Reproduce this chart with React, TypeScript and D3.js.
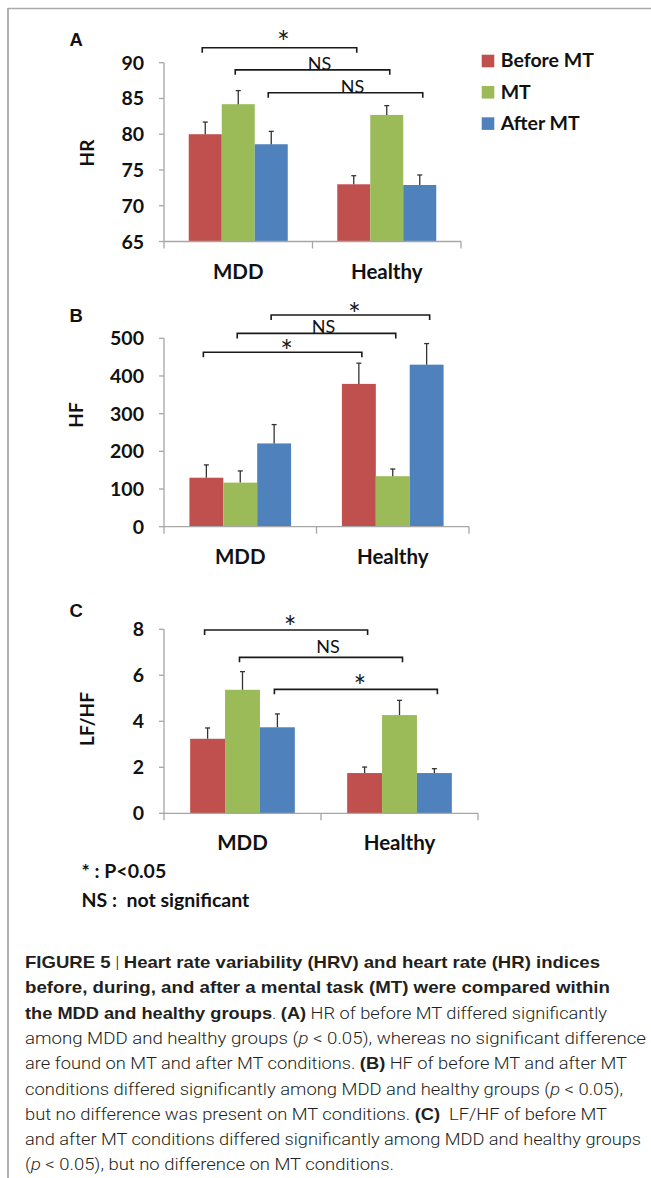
import React from "react";
import * as d3 from "d3";

// ---------- data ----------
const categories = ["MDD", "Healthy"];
const seriesNames = ["Before MT", "MT", "After MT"];
const seriesColors = ["#C0504D", "#9BBB59", "#4F81BD"];

// HR (panel A): [category][series]
const hrMeans = [
  [80.0, 84.2, 78.6],
  [73.0, 82.7, 72.9],
];
const hrErrors = [
  [1.7, 1.9, 1.8],
  [1.2, 1.3, 1.4],
];
const hrTicks = [65, 70, 75, 80, 85, 90];
const hrBrackets = [
  { series: 0, level: 92.1, label: "*" },
  { series: 1, level: 89.0, label: "NS" },
  { series: 2, level: 85.8, label: "NS" },
];

// HF (panel B)
const hfMeans = [
  [130, 117, 221],
  [379, 134, 430],
];
const hfErrors = [
  [34, 31, 50],
  [55, 19, 56],
];
const hfTicks = [0, 100, 200, 300, 400, 500];
const hfBrackets = [
  { series: 0, level: 463, label: "*" },
  { series: 1, level: 513, label: "NS" },
  { series: 2, level: 562, label: "*" },
];

// LF/HF (panel C)
const lfhfMeans = [
  [3.24, 5.37, 3.74],
  [1.75, 4.27, 1.75],
];
const lfhfErrors = [
  [0.47, 0.79, 0.58],
  [0.26, 0.64, 0.19],
];
const lfhfTicks = [0, 2, 4, 6, 8];
const lfhfBrackets = [
  { series: 0, level: 7.97, label: "*" },
  { series: 1, level: 6.78, label: "NS" },
  { series: 2, level: 5.39, label: "*" },
];

const footnotes = ["* : P<0.05", "NS :  not significant"];

type Seg = [string, "b" | "r" | "i"];
const captionLines: Seg[][] = [
  [["FIGURE 5", "b"], [" | ", "r"], ["Heart rate variability (HRV) and heart rate (HR) indices", "b"]],
  [["before, during, and after a mental task (MT) were compared within", "b"]],
  [["the MDD and healthy groups", "b"], [". ", "r"], ["(A)", "b"], [" HR of before MT differed significantly", "r"]],
  [["among MDD and healthy groups (", "r"], ["p", "i"], [" < 0.05), whereas no significant difference", "r"]],
  [["are found on MT and after MT conditions. ", "r"], ["(B)", "b"], [" HF of before MT and after MT", "r"]],
  [["conditions differed significantly among MDD and healthy groups (", "r"], ["p", "i"], [" < 0.05),", "r"]],
  [["but no difference was present on MT conditions. ", "r"], ["(C)", "b"], ["  LF/HF of before MT", "r"]],
  [["and after MT conditions differed significantly among MDD and healthy groups", "r"]],
  [["(", "r"], ["p", "i"], [" < 0.05), but no difference on MT conditions.", "r"]],
];

// ---------- layout (positions / styles) ----------
const panels = [
  { letter: "A", yLabel: "HR", means: hrMeans, errors: hrErrors, ticks: hrTicks, brackets: hrBrackets },
  { letter: "B", yLabel: "HF", means: hfMeans, errors: hfErrors, ticks: hfTicks, brackets: hfBrackets },
  { letter: "C", yLabel: "LF/HF", means: lfhfMeans, errors: lfhfErrors, ticks: lfhfTicks, brackets: lfhfBrackets },
];
const layouts = [
  { x0: 164, x1: 461, yTop: 62.7, yBottom: 241.5, letterY: 45.7, yLabelX: 87, yLabelY: 153, starGap: 11, nsGap: 0 },
  { x0: 164, x1: 469, yTop: 338.3, yBottom: 526.7, letterY: 322.3, yLabelX: 76, yLabelY: 415, starGap: 7, nsGap: 0 },
  { x0: 164, x1: 478, yTop: 629.3, yBottom: 813.3, letterY: 617.3, yLabelX: 87, yLabelY: 719, starGap: 9, nsGap: 4 },
];
const captionEnds = [600, 610, 607, 646, 627, 623, 607, 641, 394];

const CHART_FONT = "Lato, 'Open Sans', sans-serif";
const AXIS_COLOR = "#a6a6a6";
const STAR_SIZE = 30;

function Panel({ p, L }: { p: (typeof panels)[number]; L: (typeof layouts)[number] }) {
  const x = d3.scaleBand<string>().domain(categories).range([L.x0, L.x1]).padding(0);
  const bw = x.bandwidth();
  const xs = d3
    .scaleBand<string>()
    .domain(seriesNames)
    .range([bw / 6, (bw * 5) / 6])
    .padding(0);
  const ticks = p.ticks;
  const y = d3
    .scaleLinear()
    .domain([ticks[0], ticks[ticks.length - 1]])
    .range([L.yBottom, L.yTop]);
  const barW = xs.bandwidth();
  const center = (ci: number, si: number) => (x(categories[ci]) as number) + (xs(seriesNames[si]) as number) + barW / 2;

  return (
    <g>
      <text x={69.5} y={L.letterY} fontFamily="'Liberation Sans', Arial, sans-serif" fontWeight={700} fontSize={18.5} fill="#111">
        {p.letter}
      </text>
      <text
        transform={`translate(${L.yLabelX},${L.yLabelY}) rotate(-90)`}
        textAnchor="middle"
        dy="0.36em"
        fontFamily={CHART_FONT}
        fontWeight={700}
        fontSize={19}
        fill="#111"
      >
        {p.yLabel}
      </text>
      {/* bars */}
      {categories.map((c, ci) =>
        seriesNames.map((s, si) => {
          const v = p.means[ci][si];
          const bx = (x(c) as number) + (xs(s) as number);
          return (
            <rect
              key={c + s}
              x={bx}
              y={y(v)}
              width={barW}
              height={y(ticks[0]) - y(v)}
              fill={seriesColors[si]}
            />
          );
        })
      )}
      {/* error bars */}
      {categories.map((c, ci) =>
        seriesNames.map((s, si) => {
          const v = p.means[ci][si];
          const e = p.errors[ci][si];
          const cx = center(ci, si);
          return (
            <g key={"e" + c + s} stroke="#333" strokeWidth={1.3}>
              <line x1={cx} x2={cx} y1={y(v)} y2={y(v + e)} />
              <line x1={cx - 2.5} x2={cx + 2.5} y1={y(v + e)} y2={y(v + e)} />
            </g>
          );
        })
      )}
      {/* axes */}
      <g stroke={AXIS_COLOR} strokeWidth={1.3} fill="none">
        <line x1={L.x0} x2={L.x0} y1={L.yTop} y2={L.yBottom} />
        {ticks.map((t) => (
          <line key={t} x1={L.x0 - 5} x2={L.x0} y1={y(t)} y2={y(t)} />
        ))}
        <line x1={L.x0} x2={L.x1} y1={L.yBottom} y2={L.yBottom} />
        {[L.x0, ...categories.map((c) => (x(c) as number) + bw)].map((tx, i) => (
          <line key={i} x1={tx} x2={tx} y1={L.yBottom} y2={L.yBottom + 7} />
        ))}
      </g>
      {ticks.map((t) => (
        <text
          key={"t" + t}
          x={144}
          y={y(t)}
          dy="0.36em"
          textAnchor="end"
          fontFamily={CHART_FONT}
          fontWeight={700}
          fontSize={19.5}
          fill="#111"
        >
          {t}
        </text>
      ))}
      {categories.map((c) => (
        <text
          key={"c" + c}
          x={(x(c) as number) + bw / 2}
          y={L.yBottom + 37}
          textAnchor="middle"
          fontFamily={CHART_FONT}
          fontWeight={700}
          fontSize={20.5}
          fill="#111"
        >
          {c}
        </text>
      ))}
      {/* significance brackets */}
      {p.brackets.map((b, i) => {
        const bx1 = center(0, b.series) - 3;
        const bx2 = center(1, b.series) + 3;
        const by = y(b.level);
        const mid = (bx1 + bx2) / 2;
        return (
          <g key={"b" + i}>
            <path
              d={`M${bx1},${by + 5}V${by}H${bx2}V${by + 5}`}
              fill="none"
              stroke="#1a1a1a"
              strokeWidth={1.6}
            />
            {b.label === "*" ? (
              <text
                x={mid + 4}
                y={by - L.starGap + STAR_SIZE * 0.56}
                textAnchor="middle"
                fontFamily={CHART_FONT}
                fontSize={STAR_SIZE}
                fill="#1a1a1a"
              >
                *
              </text>
            ) : (
              <text x={mid + 7} y={by - L.nsGap} textAnchor="middle" fontFamily={CHART_FONT} fontSize={18} fill="#111">
                {b.label}
              </text>
            )}
          </g>
        );
      })}
    </g>
  );
}

export default function App() {
  return (
    <svg
      width={651}
      height={1178}
      viewBox="0 0 651 1178"
      style={{ position: "absolute", left: 0, top: 0, display: "block", background: "#fff" }}
    >
      <rect x={0} y={0} width={651} height={1178} fill="#fff" />
      {/* frame */}
      <line x1={8} x2={651} y1={8.5} y2={8.5} stroke="#aaa" strokeWidth={1.5} />
      <line x1={8} x2={8} y1={8} y2={1178} stroke="#999" strokeWidth={1.5} />

      {panels.map((p, i) => (
        <Panel key={p.letter} p={p} L={layouts[i]} />
      ))}

      {/* legend */}
      {seriesNames.map((s, i) => (
        <g key={s}>
          <rect x={481.7} y={54.7 + i * 31.3} width={12.6} height={12.6} fill={seriesColors[i]} />
          <text x={500.7} y={67.3 + i * 31.3} fontFamily={CHART_FONT} fontWeight={700} fontSize={19.5} fill="#111">
            {s}
          </text>
        </g>
      ))}

      {/* footnotes */}
      {footnotes.map((f, i) => (
        <text
          key={f}
          x={81.5}
          y={878 + i * 28.7}
          fontFamily={CHART_FONT}
          fontWeight={700}
          fontSize={19.5}
          fill="#111"
          style={{ whiteSpace: "pre" }}
        >
          {f}
        </text>
      ))}

      {/* caption */}
      {captionLines.map((line, li) => (
        <text
          key={li}
          x={25}
          y={968 + li * 25.3}
          fontSize={17}
          fill="#231f20"
          textLength={captionEnds[li] - 25}
          lengthAdjust="spacingAndGlyphs"
          style={{ whiteSpace: "pre" }}
        >
          {line.map(([t, k], si) => (
            <tspan
              key={si}
              fontFamily={k === "b" ? "'Liberation Sans', Arial, sans-serif" : "Roboto, 'Liberation Sans', sans-serif"}
              fontWeight={k === "b" ? 700 : 300}
              fontStyle={k === "i" ? "italic" : "normal"}
            >
              {t}
            </tspan>
          ))}
        </text>
      ))}
    </svg>
  );
}
